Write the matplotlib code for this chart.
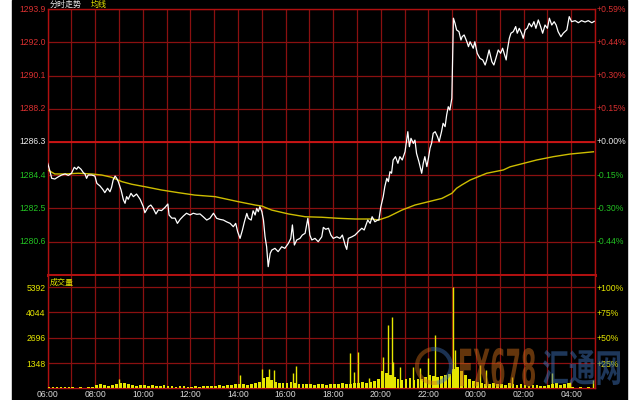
import matplotlib
matplotlib.use("Agg")
import matplotlib.pyplot as plt
from matplotlib.patches import Rectangle, PathPatch, Arc
from matplotlib.textpath import TextPath
from matplotlib.font_manager import FontProperties
from matplotlib.transforms import Affine2D, IdentityTransform

# minutes after 06:00 and the traded price
price_min = [0, 6, 10, 18, 27, 35, 44, 52, 60, 67, 73, 77, 84, 90, 94, 98, 102, 111, 119, 124, 132, 140, 144, 151, 157, 161, 165, 170, 174, 178,
             185, 191, 195, 199, 203, 210, 216, 224, 233, 241, 245, 254, 260, 266, 273, 279, 287, 296, 303, 306, 313, 321, 327, 334, 342, 350, 359, 367, 376, 384,
             392, 401, 409, 418, 426, 434, 443, 451, 460, 468, 474, 479, 485, 491, 496, 502, 506, 513, 518, 523, 527, 531, 535, 540, 544, 548, 552, 556, 561, 565,
             573, 581, 590, 598, 607, 613, 617, 622, 628, 636, 642, 649, 656, 661, 666, 674, 682, 691, 695, 701, 708, 714, 720, 729, 737, 743, 750, 754, 758, 767,
             775, 783, 792, 798, 807, 813, 818, 825, 832, 835, 840, 846, 850, 855, 859, 863, 867, 871, 877, 883, 888, 894, 901, 908, 912, 916, 922, 926, 930, 936,
             943, 947, 951, 956, 960, 964, 968, 972, 977, 983, 987, 993, 997, 1002, 1006, 1010, 1014, 1019, 1023, 1027, 1031, 1037, 1042, 1045, 1050, 1057, 1061, 1065, 1073, 1077,
             1083, 1090, 1097, 1103, 1107, 1113, 1120, 1125, 1130, 1136, 1142, 1147, 1151, 1156, 1159, 1164, 1168, 1174, 1180, 1184, 1189, 1195, 1199, 1204, 1209, 1214, 1220, 1226, 1231, 1237,
             1243, 1248, 1254, 1260, 1265, 1271, 1277, 1282, 1287, 1294, 1300, 1309, 1315, 1321, 1330, 1338, 1346, 1355, 1363, 1372, 1378]
price_val = [1285.08, 1284.60, 1284.22, 1284.18, 1284.31, 1284.41, 1284.47, 1284.39, 1284.51, 1284.85, 1284.74, 1284.88, 1284.74, 1284.54, 1284.47, 1284.22, 1284.41, 1284.41, 1284.35, 1283.93, 1283.78, 1283.55, 1283.40, 1283.65, 1283.45, 1283.70, 1284.12, 1284.35, 1284.22, 1284.03,
             1283.55, 1282.98, 1282.79, 1283.17, 1283.02, 1283.36, 1283.17, 1283.32, 1283.02, 1282.60, 1282.25, 1282.60, 1282.69, 1282.50, 1282.18, 1282.41, 1282.37, 1282.56, 1282.75, 1282.12, 1281.94, 1281.94, 1281.64, 1281.87, 1282.06, 1282.22, 1282.12, 1282.22, 1282.16, 1282.18,
             1282.02, 1281.83, 1281.93, 1282.22, 1281.93, 1281.87, 1281.83, 1281.73, 1281.64, 1281.45, 1281.64, 1281.16, 1280.78, 1281.26, 1281.73, 1282.21, 1281.93, 1281.83, 1282.36, 1282.12, 1282.50, 1282.31, 1282.59, 1282.31, 1281.83, 1280.88, 1280.30, 1279.16, 1279.92, 1280.11,
             1280.21, 1280.02, 1280.30, 1280.21, 1280.50, 1280.78, 1281.55, 1280.40, 1280.69, 1280.78, 1280.97, 1281.07, 1281.93, 1280.97, 1280.69, 1280.78, 1280.59, 1280.87, 1281.41, 1281.30, 1281.36, 1280.97, 1280.78, 1280.87, 1280.78, 1280.97, 1280.40, 1280.15, 1280.78, 1280.87,
             1280.97, 1281.16, 1281.36, 1281.26, 1281.83, 1281.64, 1282.02, 1281.73, 1281.83, 1281.83, 1282.59, 1283.17, 1283.74, 1284.22, 1284.03, 1284.60, 1284.51, 1285.27, 1285.46, 1285.08, 1285.46, 1285.27, 1285.74, 1286.89, 1286.03, 1286.51, 1286.22, 1286.41, 1285.65, 1285.17,
             1284.51, 1285.08, 1285.46, 1284.89, 1285.37, 1285.94, 1286.23, 1286.80, 1286.89, 1286.60, 1286.32, 1286.89, 1287.37, 1287.18, 1287.85, 1288.32, 1288.13, 1288.80, 1293.39, 1293.10, 1292.72, 1292.62, 1292.14, 1292.33, 1292.43, 1292.04, 1291.76, 1292.04, 1291.67, 1292.04,
             1291.38, 1291.09, 1291.00, 1290.71, 1291.00, 1291.57, 1290.90, 1290.71, 1291.09, 1291.57, 1291.38, 1291.67, 1291.38, 1291.00, 1291.57, 1292.24, 1292.53, 1292.62, 1292.91, 1292.53, 1292.81, 1292.53, 1292.24, 1292.72, 1292.81, 1293.10, 1292.90, 1293.19, 1292.81, 1293.29,
             1292.90, 1292.53, 1293.00, 1292.81, 1293.39, 1293.00, 1293.19, 1293.00, 1292.62, 1292.33, 1292.53, 1292.72, 1293.48, 1293.19, 1293.25, 1293.13, 1293.25, 1293.17, 1293.25, 1293.13, 1293.21]

# average price line
avg_min = [0, 18, 44, 77, 111, 136, 161, 187, 212, 245, 287, 329, 371, 422, 481, 523, 540, 565, 607, 649, 691, 733, 775, 817, 834,
           859, 893, 926, 960, 994, 1019, 1031, 1044, 1065, 1107, 1149, 1166, 1233, 1275, 1317, 1376]
avg_val = [1284.70, 1284.47, 1284.47, 1284.51, 1284.47, 1284.41, 1284.28, 1284.03, 1283.88, 1283.74, 1283.55, 1283.40, 1283.26, 1283.17,
           1282.88, 1282.69, 1282.63, 1282.40, 1282.18, 1282.02, 1281.99, 1281.93, 1281.89, 1281.89, 1281.83,
           1282.02, 1282.40, 1282.69, 1282.88, 1283.07, 1283.36, 1283.65, 1283.84, 1284.12, 1284.51, 1284.70, 1284.88, 1285.27, 1285.46, 1285.61, 1285.74]

# volume, 10 minute blocks (one row per hour, 06:00 .. 04:00)
vol_base = [80, 40, 30, 30, 40, 60,
            30, 20, 40, 20, 30, 50,
            150, 200, 150, 120, 180, 200,
            280, 250, 200, 150, 130, 150,
            150, 120, 160, 100, 120, 150,
            100, 120, 80, 100, 90, 60,
            80, 100, 80, 120, 100, 90,
            120, 150, 130, 160, 150, 200,
            220, 200, 180, 220, 250, 300,
            550, 600, 450, 300, 250, 280,
            250, 300, 250, 220, 200, 200,
            200, 180, 200, 220, 180, 200,
            200, 220, 250, 220, 200, 250,
            250, 300, 280, 300, 350, 500,
            900, 800, 700, 600, 500, 450,
            500, 550, 450, 500, 500, 600,
            700, 650, 600, 650, 700, 750,
            1000, 1100, 900, 700, 500, 350,
            300, 250, 200, 200, 250, 200,
            200, 180, 250, 200, 150, 200,
            150, 100, 150, 180, 120, 100,
            150, 200, 250, 180, 220, 250,
            50, 0, 30, 0, 40, 0]
spike_min = [180, 485, 540, 559, 571, 618, 625, 762, 773, 783, 811, 846, 859, 867, 871, 888, 922, 939, 960, 977, 1023, 1027, 1090, 1105, 1170, 1271, 1317, 1376]
spike_vol = [465, 700, 1000, 1000, 960, 820, 1175, 1850, 870, 1940, 520, 1670, 3360, 3810, 1400, 1140, 1140, 1050, 1580, 2830, 5392, 2030, 1230, 960, 600, 780, 340, 430]

price_levels = [1293.9, 1292.0, 1290.1, 1288.2, 1286.3, 1284.4, 1282.5, 1280.6]
pct_labels = ["+0.59%", "+0.44%", "+0.30%", "+0.15%", "+0.00%", "-0.15%", "-0.30%", "-0.44%"]
vol_levels = [5392, 4044, 2696, 1348]
vol_pct = ["+100%", "+75%", "+50%", "+25%"]
time_labels = ["06:00", "08:00", "10:00", "12:00", "14:00", "16:00", "18:00", "20:00", "22:00", "00:00", "02:00", "04:00"]

GRID = "#8a1010"
RED = "#d83030"
GREEN = "#22c022"
WHITE = "#e8e8e8"
YEL = "#e6e600"
NUM = "Liberation Sans"
CJK = ["Noto Sans CJK SC", "DejaVu Sans"]

fig = plt.figure(figsize=(6.4, 4), dpi=100, facecolor="white")
fig.patches.append(Rectangle((12 / 640, 0), 615 / 640, 1, transform=fig.transFigure,
                             color="black", zorder=-10))

ax = fig.add_axes([47.7 / 640, 1 - 274.7 / 400, 547.3 / 640, 265.4 / 400])
axv = fig.add_axes([47.7 / 640, 12 / 400, 547.3 / 640, 112 / 400])

for a in (ax, axv):
    a.set_facecolor("black")
    a.set_xlim(0, 1380)
    a.set_xticks(range(0, 1381, 60))
    a.tick_params(length=0, labelleft=False, labelbottom=False)
    a.grid(color=GRID, lw=0.9)
    a.set_axisbelow(True)
    for s in a.spines.values():
        s.set_color("#b01010")
        s.set_linewidth(1.0)

# price panel
ax.set_ylim(1278.7, 1293.9)
ax.set_yticks(price_levels)
ax.axhline(1286.3, color="#d01515", lw=1.3, zorder=1)
ax.spines["bottom"].set_linewidth(2.2)
ax.plot(avg_min, avg_val, color="#cdbd00", lw=1.0, zorder=3)
ax.plot(price_min, price_val, color="white", lw=0.9, zorder=4)

for i, (lv, lab) in enumerate(zip(price_levels, pct_labels)):
    c = RED if i < 4 else (WHITE if i == 4 else GREEN)
    ax.annotate(f"{lv:.1f}", xy=(0, lv), xycoords=ax.get_yaxis_transform(), xytext=(-1.5, 0),
                textcoords="offset points", ha="right", va="center", color=c, fontsize=6.2,
                family=NUM, annotation_clip=False)
    ax.annotate(lab, xy=(1, lv), xycoords=ax.get_yaxis_transform(), xytext=(0.8, 0),
                textcoords="offset points", ha="left", va="center", color=c, fontsize=6.2,
                family=NUM, annotation_clip=False)

ax.annotate("分时走势", xy=(0, 1), xycoords="axes fraction", xytext=(1.5, 0.2),
            textcoords="offset points", ha="left", va="bottom", color=WHITE, fontsize=5.8,
            family=CJK, annotation_clip=False)
ax.annotate("均线", xy=(0, 1), xycoords="axes fraction", xytext=(31, 0.2),
            textcoords="offset points", ha="left", va="bottom", color=YEL, fontsize=5.8,
            family=CJK, annotation_clip=False)

# volume panel
axv.set_ylim(0, 5392 * 112 / 101)
axv.set_yticks(vol_levels)
axv.spines["top"].set_visible(False)
base_min = [10 * i for i in range(len(vol_base))]
axv.bar(base_min, vol_base, width=7, align="edge", color=YEL, lw=0, zorder=3)
axv.vlines(spike_min, 0, spike_vol, color=YEL, lw=1.0, zorder=3)

for lv, lab in zip(vol_levels, vol_pct):
    axv.annotate(str(lv), xy=(0, lv), xycoords=axv.get_yaxis_transform(), xytext=(-1.5, -1),
                 textcoords="offset points", ha="right", va="center", color=YEL, fontsize=6.2,
                 family=NUM, annotation_clip=False)
    axv.annotate(lab, xy=(1, lv), xycoords=axv.get_yaxis_transform(), xytext=(0.8, -1),
                 textcoords="offset points", ha="left", va="center", color=YEL, fontsize=6.2,
                 family=NUM, annotation_clip=False)
axv.annotate("成交量", xy=(0, 1), xycoords="axes fraction", xytext=(1.5, -1.2),
             textcoords="offset points", ha="left", va="top", color=YEL, fontsize=5.8,
             family=CJK, annotation_clip=False)

for i, t in enumerate(time_labels):
    axv.annotate(t, xy=(i * 120, 0), xycoords=axv.get_xaxis_transform(), xytext=(0, -5),
                 textcoords="offset points", ha="center", va="center", color="#d8d8d8",
                 fontsize=6.2, family=NUM, annotation_clip=False)


# watermark, placed in pixel boxes
def stamp(text, box, color, prop):
    tp = TextPath((0, 0), text, size=1, prop=prop)
    ext = tp.get_extents()
    x0, y0, w, h = box
    tr = Affine2D().translate(-ext.x0, -ext.y0).scale(w / ext.width, h / ext.height).translate(x0, y0)
    fig.add_artist(PathPatch(tp, transform=tr, facecolor=color, edgecolor="none", alpha=0.5, zorder=5))


stamp("FX678", (460, 13, 75, 39), "#c86a18", FontProperties(family="DejaVu Sans", weight="bold"))
stamp("汇通网", (543, 15, 77, 35), "#3c6eb4", FontProperties(family="Noto Sans CJK SC", weight="bold"))
fig.add_artist(Arc((434, 34), 34, 34, theta1=100, theta2=280, transform=IdentityTransform(),
                   color="#c86a18", lw=3, alpha=0.45, zorder=5))
fig.add_artist(Arc((434, 34), 34, 34, theta1=-80, theta2=100, transform=IdentityTransform(),
                   color="#3c6eb4", lw=3, alpha=0.45, zorder=5))

fig.savefig("out.png", dpi=100, facecolor=fig.get_facecolor())
